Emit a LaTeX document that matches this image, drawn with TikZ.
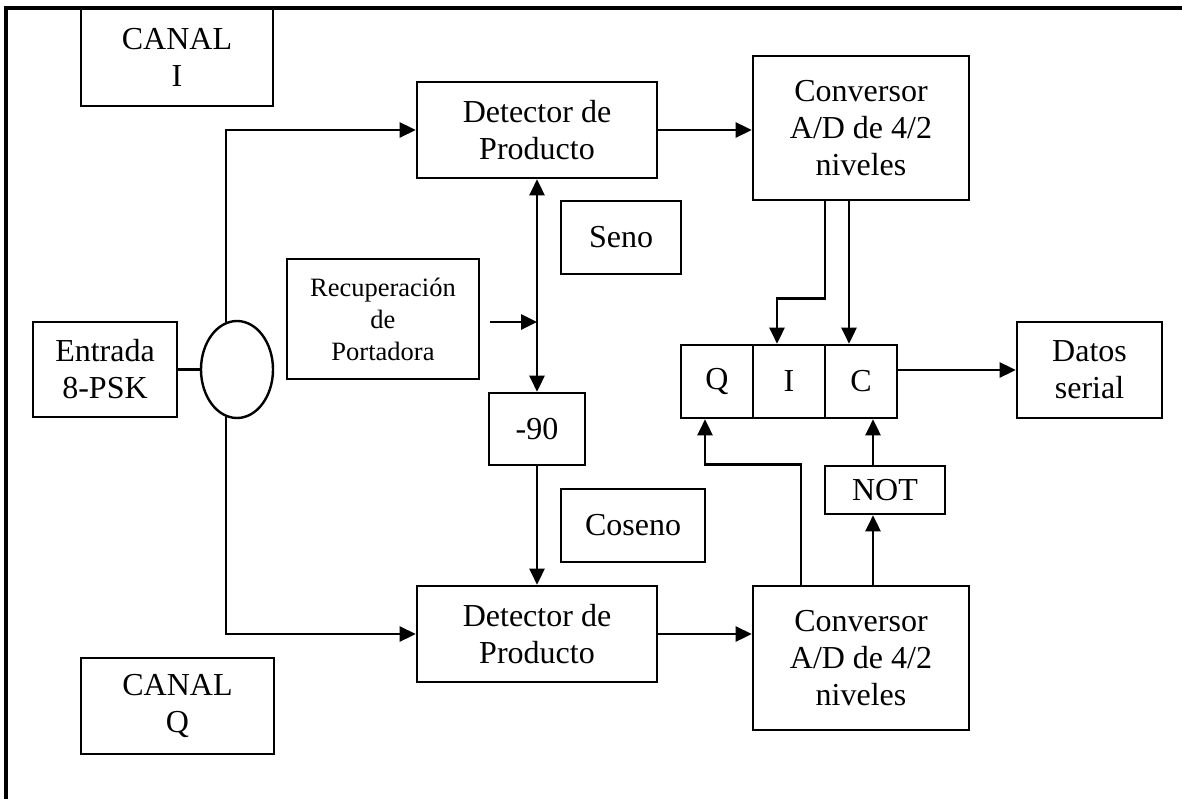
\documentclass[tikz,border=0pt]{standalone}
\usepackage{fontspec}
\setmainfont{Liberation Serif}
\usetikzlibrary{arrows.meta,shapes.geometric}

\tikzset{
  box/.style={draw, line width=2.6pt, inner sep=0pt, align=center,
              font=\fontsize{32}{37}\selectfont},
  sz/.style 2 args={minimum width=#1pt, minimum height=#2pt},
  wire/.style={line width=2.6pt},
  arr/.style={wire, -{Triangle[length=16pt,width=15pt]}},
  biarr/.style={wire, {Triangle[length=16pt,width=15pt]}-{Triangle[length=16pt,width=15pt]}},
}

\begin{document}
\begin{tikzpicture}[x=1pt, y=-1pt]
  \useasboundingbox (0,0) rectangle (1182,799);

  % outer frame: top and left edges only
  \draw[line width=3.2pt] (6,799) -- (6,8) -- (1182,8);

  % labels of the two channels
  \node[box, sz={192}{97}] (canalI) at (177,57.5) {CANAL\\I};
  \node[box, sz={193}{96}] (canalQ) at (177.5,706) {CANAL\\Q};

  % input and splitter
  \node[box, sz={144}{95}] (entrada) at (105,369.5) {Entrada\\8-PSK};
  \node[draw, line width=2.4pt, ellipse, minimum width=72pt, minimum height=97pt, inner sep=0pt] (split) at (237,369.5) {};

  % product detectors
  \node[box, sz={240}{96}] (det1) at (537,130) {Detector de\\Producto};
  \node[box, sz={240}{96}] (det2) at (537,634) {Detector de\\Producto};

  % carrier recovery and phase shift
  \node[box, sz={192}{120}, font=\fontsize{26.5}{32}\selectfont] (recup) at (383,319) {Recuperación\\de\\Portadora};
  \node[box, sz={96}{72}] (m90) at (537,429) {-90};
  \node[box, sz={120}{73}] (seno) at (621,237.5) {Seno};
  \node[box, sz={144}{73}] (coseno) at (633,525.5) {Coseno};

  % A/D converters
  \node[box, sz={216}{144}] (conv1) at (861,128) {Conversor\\A/D de 4/2\\niveles};
  \node[box, sz={216}{144}] (conv2) at (861,658) {Conversor\\A/D de 4/2\\niveles};

  % output register Q I C
  \node[box, sz={72}{73}] (cQ) at (717,381.5) {Q};
  \node[box, sz={72}{73}] (cI) at (789,381.5) {I};
  \node[box, sz={72}{73}] (cC) at (861,381.5) {C};

  \node[box, sz={120}{48}] (inv) at (885,490) {NOT};
  \node[box, sz={145}{96}] (datos) at (1089.5,370) {Datos\\serial};

  % input paths
  \draw[wire] (entrada.east) -- (split.west);
  \draw[arr] (split.103.4) |- (det1.west);
  \draw[arr] (split.-103.4) |- (det2.west);

  % detectors to converters
  \draw[arr] (det1.east) -- (det1.east -| conv1.west);
  \draw[arr] (det2.east) -- (det2.east -| conv2.west);

  % carrier distribution
  \draw[biarr] (det1.south) -- (m90.north);
  \coordinate (rin) at ([shift={(10,3)}]recup.east);
  \draw[arr] (rin) -- (rin -| det1.south);
  \draw[arr] (m90.south) -- (det2.north);

  % converter I outputs to register
  \draw[arr] ([xshift=-36pt]conv1.south) -- ++(0,97) -| ([xshift=-12pt]cI.north);
  \draw[arr] ([xshift=-12pt]conv1.south) -- ([xshift=-12pt]conv1.south |- cC.north);

  % converter Q outputs to register
  \draw[arr] ([xshift=-60pt]conv2.north) -- ([xshift=-60pt]conv2.north |- inv.north) -| ([xshift=-12pt]cQ.south);
  \draw[arr] ([xshift=12pt]conv2.north) -- ([xshift=12pt]conv2.north |- inv.south);
  \draw[arr] ([xshift=-12pt]inv.north) -- ([xshift=-12pt]inv.north |- cC.south);

  % serial output
  \draw[arr] (cC.east |- datos.west) -- (datos.west);
\end{tikzpicture}
\end{document}
